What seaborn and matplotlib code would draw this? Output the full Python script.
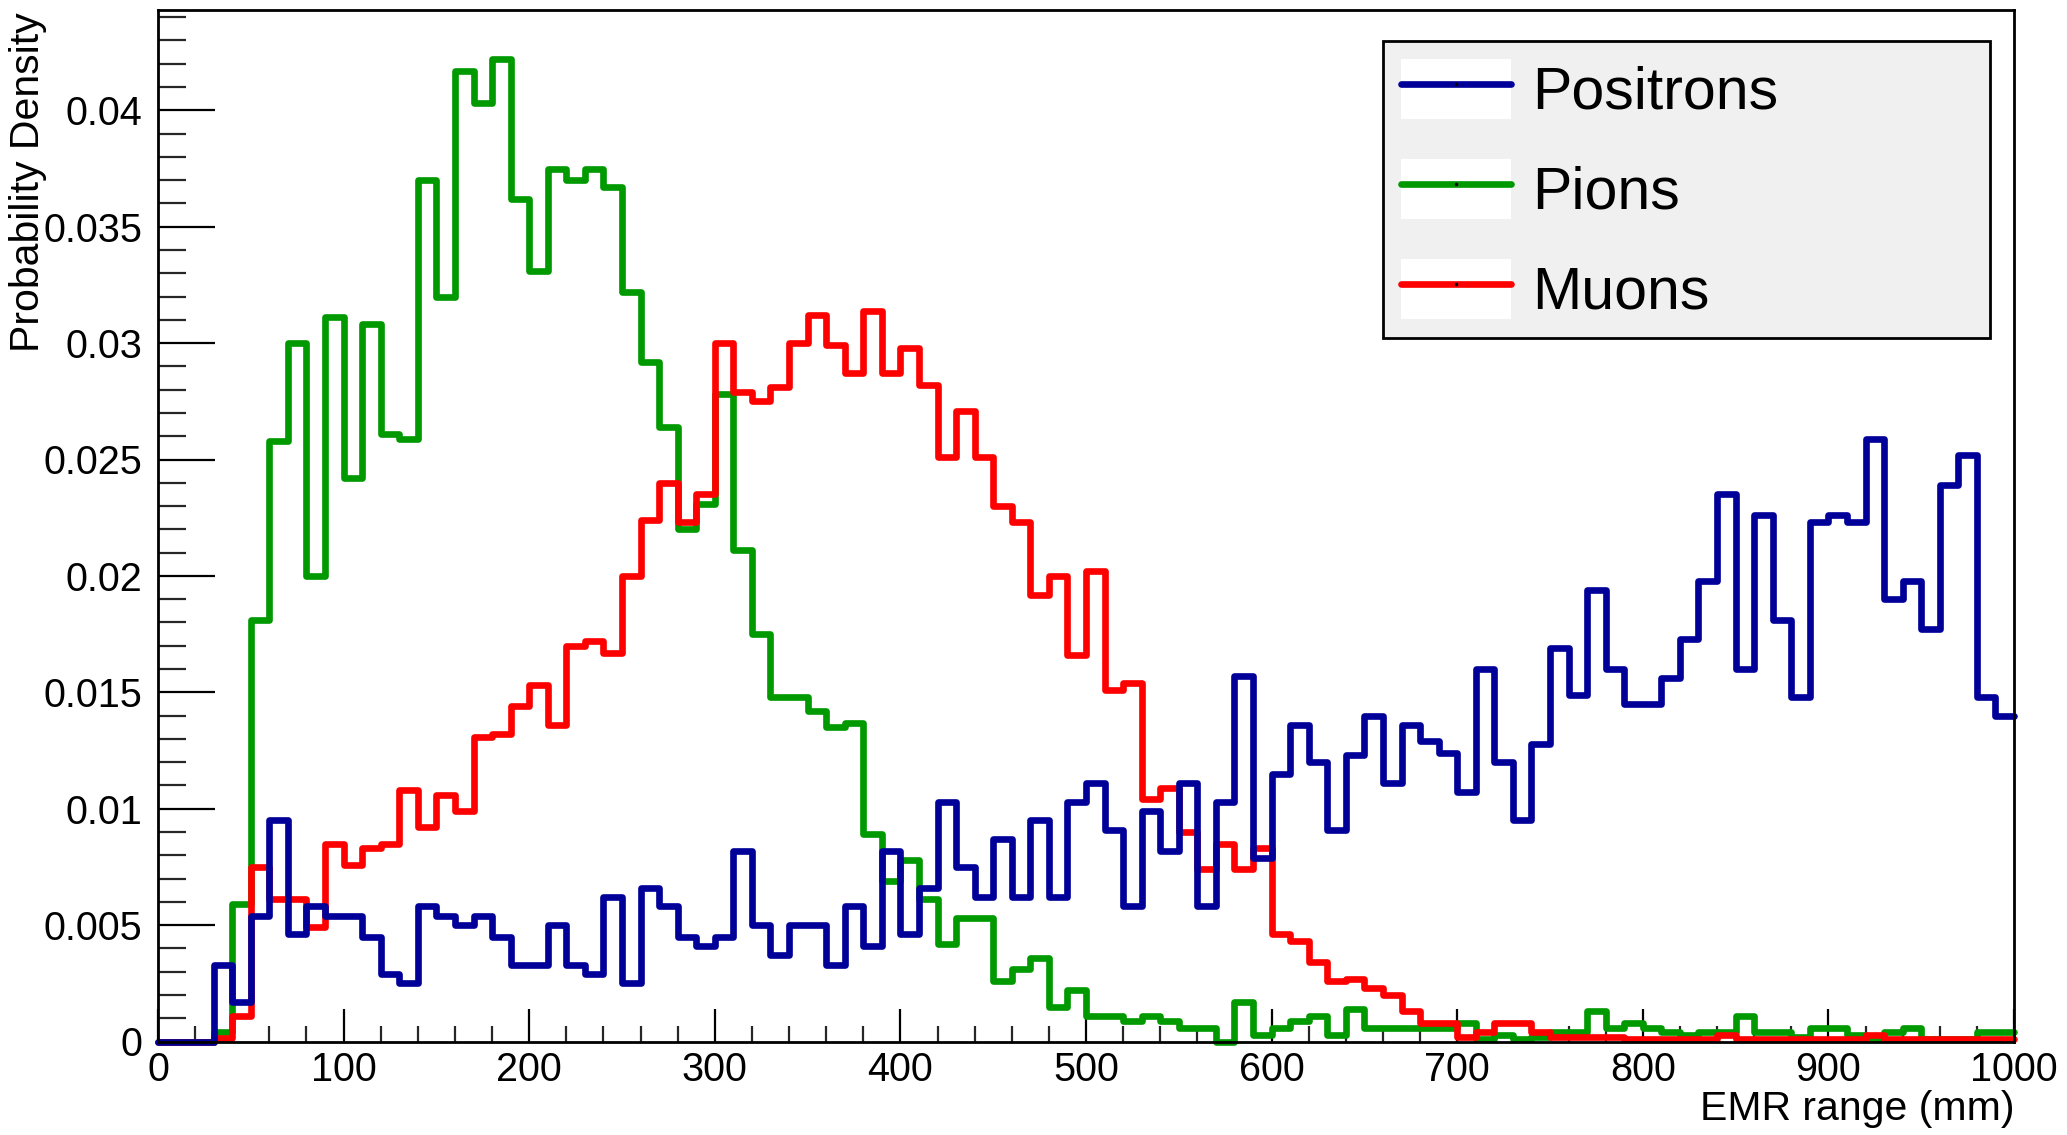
import numpy as np
import pandas as pd
import matplotlib
matplotlib.use("Agg")
import matplotlib.pyplot as plt
import seaborn as sns
from matplotlib.lines import Line2D
from matplotlib.patches import Rectangle
from matplotlib.legend_handler import HandlerTuple
from matplotlib.ticker import MultipleLocator, FixedLocator, FixedFormatter

# ---------------- data (bin contents, 10 mm bins from 0 to 1000 mm) ----------------
bin_edges = np.arange(0, 1001, 10)

positrons = [
    0, 0, 0, 0.0033, 0.0017, 0.0054, 0.0095, 0.0046, 0.0058, 0.0054,
    0.0054, 0.0045, 0.0029, 0.0025, 0.0058, 0.0054, 0.0050, 0.0054, 0.0045, 0.0033,
    0.0033, 0.0050, 0.0033, 0.0029, 0.0062, 0.0025, 0.0066, 0.0058, 0.0045, 0.0041,
    0.0045, 0.0082, 0.0050, 0.0037, 0.0050, 0.0050, 0.0033, 0.0058, 0.0041, 0.0082,
    0.0046, 0.0066, 0.0103, 0.0075, 0.0062, 0.0087, 0.0062, 0.0095, 0.0062, 0.0103,
    0.0111, 0.0091, 0.0058, 0.0099, 0.0082, 0.0111, 0.0058, 0.0103, 0.0157, 0.0079,
    0.0115, 0.0136, 0.0120, 0.0091, 0.0123, 0.0140, 0.0111, 0.0136, 0.0129, 0.0124,
    0.0107, 0.0160, 0.0120, 0.0095, 0.0128, 0.0169, 0.0149, 0.0194, 0.0160, 0.0145,
    0.0145, 0.0156, 0.0173, 0.0198, 0.0235, 0.0160, 0.0226, 0.0181, 0.0148, 0.0223,
    0.0226, 0.0223, 0.0259, 0.0190, 0.0198, 0.0177, 0.0239, 0.0252, 0.0148, 0.0140,
]

pions = [
    0, 0, 0, 0.0004, 0.0059, 0.0181, 0.0258, 0.0300, 0.0200, 0.0311,
    0.0242, 0.0308, 0.0261, 0.0259, 0.0370, 0.0320, 0.0417, 0.0403, 0.0422, 0.0362,
    0.0331, 0.0375, 0.0370, 0.0375, 0.0367, 0.0322, 0.0292, 0.0264, 0.0220, 0.0231,
    0.0278, 0.0211, 0.0175, 0.0148, 0.0148, 0.0142, 0.0135, 0.0137, 0.0089, 0.0069,
    0.0078, 0.0061, 0.0042, 0.0053, 0.0053, 0.0026, 0.0031, 0.0036, 0.0015, 0.0022,
    0.0011, 0.0011, 0.0009, 0.0011, 0.0009, 0.0006, 0.0006, 0.0000, 0.0017, 0.0003,
    0.0006, 0.0009, 0.0011, 0.0003, 0.0014, 0.0006, 0.0006, 0.0006, 0.0006, 0.0006,
    0.0008, 0.0001, 0.0003, 0.0001, 0.0002, 0.0004, 0.0004, 0.0013, 0.0006, 0.0008,
    0.0006, 0.0004, 0.0003, 0.0004, 0.0004, 0.0011, 0.0004, 0.0004, 0.0002, 0.0006,
    0.0006, 0.0003, 0.0001, 0.0004, 0.0006, 0.0001, 0.0001, 0.0001, 0.0004, 0.0004,
]

muons = [
    0, 0, 0, 0.00015, 0.0011, 0.0075, 0.0061, 0.0061, 0.0049, 0.0085,
    0.0076, 0.0083, 0.0085, 0.0108, 0.0092, 0.0106, 0.0099, 0.0131, 0.0132, 0.0144,
    0.0153, 0.0136, 0.0170, 0.0172, 0.0167, 0.0200, 0.0224, 0.0240, 0.0223, 0.0235,
    0.0300, 0.0279, 0.0275, 0.0281, 0.0300, 0.0312, 0.0299, 0.0287, 0.0314, 0.0287,
    0.0298, 0.0282, 0.0251, 0.0271, 0.0251, 0.0230, 0.0223, 0.0192, 0.0200, 0.0166,
    0.0202, 0.0151, 0.0154, 0.0104, 0.0109, 0.0090, 0.0074, 0.0085, 0.0074, 0.0083,
    0.0046, 0.0043, 0.0034, 0.0026, 0.0027, 0.0023, 0.0020, 0.0013, 0.0008, 0.0008,
    0.0002, 0.0004, 0.0008, 0.0008, 0.0004, 0.0002, 0.0002, 0.0002, 0.0002, 0.0001,
    0.0001, 0.0001, 0.0001, 0.0001, 0.0003, 0.0001, 0.0001, 0.0001, 0.0001, 0.0001,
    0.0001, 0.0001, 0.0003, 0.0001, 0.0001, 0.0001, 0.0001, 0.0001, 0.0001, 0.0001,
]

series_labels = ["Positrons", "Pions", "Muons"]
series_colors = ["#000099", "#009900", "#ff0000"]
x_ticks = [0, 100, 200, 300, 400, 500, 600, 700, 800, 900, 1000]
x_tick_labels = ["0", "100", "200", "300", "400", "500", "600", "700", "800", "900", "1000"]
y_ticks = [0, 0.005, 0.01, 0.015, 0.02, 0.025, 0.03, 0.035, 0.04]
y_tick_labels = ["0", "0.005", "0.01", "0.015", "0.02", "0.025", "0.03", "0.035", "0.04"]
x_title = "EMR range (mm)"
y_title = "Probability Density"

# ---------------- style ----------------
sns.set_style("ticks")
plt.rcParams["font.family"] = ["Liberation Sans", "DejaVu Sans"]
plt.rcParams["text.color"] = "black"
plt.rcParams["axes.labelcolor"] = "black"

W, H = 2067, 1135
fig = plt.figure(figsize=(W / 100, H / 100), dpi=100)
fig.patch.set_facecolor("white")
ax_l, ax_r, ax_t, ax_b = 158, 2014, 9.6, 1041.5
ax = fig.add_axes([ax_l / W, 1 - ax_b / H, (ax_r - ax_l) / W, (ax_b - ax_t) / H])
ax.set_facecolor("white")

centers = (bin_edges[:-1] + bin_edges[1:]) / 2
n = len(centers)
df = pd.DataFrame({
    "range": np.tile(centers, 3),
    "density": np.concatenate([positrons, pions, muons]),
    "particle": np.repeat(series_labels, n),
})
color_map = dict(zip(series_labels, series_colors))

lw = 4.8
for name in ["Pions", "Muons", "Positrons"]:
    sub = df[df["particle"] == name]
    sns.histplot(data=sub, x="range", weights="density",
                 binwidth=10, binrange=(0, 1000),
                 element="step", fill=False, color=color_map[name],
                 linewidth=lw, ax=ax, clip_on=False)

ax.set_xlim(0, 1000)
ax.set_ylim(0, (ax_b - ax_t) / 23280)

ax.xaxis.set_major_locator(FixedLocator(x_ticks))
ax.xaxis.set_major_formatter(FixedFormatter(x_tick_labels))
ax.yaxis.set_major_locator(FixedLocator(y_ticks))
ax.yaxis.set_major_formatter(FixedFormatter(y_tick_labels))
ax.xaxis.set_minor_locator(MultipleLocator(20))
ax.yaxis.set_minor_locator(MultipleLocator(0.001))

ax.tick_params(axis="x", which="major", direction="in", length=23.6, width=1.6,
               labelsize=28.5, pad=7, top=False, colors="black")
ax.tick_params(axis="x", which="minor", direction="in", length=11.6, width=1.6, top=False)
ax.tick_params(axis="y", which="major", direction="in", length=41, width=1.6,
               labelsize=28.5, pad=11, right=False, colors="black")
ax.tick_params(axis="y", which="minor", direction="in", length=20, width=1.6, right=False)

for sp in ax.spines.values():
    sp.set_visible(True)
    sp.set_linewidth(2.0)
    sp.set_color("black")
    sp.set_zorder(5)

ax.set_xlabel(x_title, fontsize=29.5, loc="right", color="black")
ax.xaxis.set_label_coords(1.0, -0.047)
ax.set_ylabel(y_title, fontsize=29.5, loc="top", color="black")
ax.yaxis.set_label_coords(-0.060, 0.997)

# ---------------- legend ----------------
handles = []
for name in series_labels:
    rect = Rectangle((0, 0), 1, 1, facecolor="white", edgecolor="none")
    line = Line2D([], [], color=color_map[name], linewidth=lw, marker=".",
                  markersize=3, markerfacecolor="black", markeredgecolor="black")
    handles.append((rect, line))

axw = ax_r - ax_l
axh = ax_b - ax_t
lx0 = (1383 - ax_l) / axw
lx1 = (1990 - ax_l) / axw
ly1 = (ax_b - 41) / axh
ly0 = (ax_b - 337) / axh
leg = ax.legend(handles, series_labels,
                handler_map={tuple: HandlerTuple(ndivide=1, pad=0)},
                loc="upper left", bbox_to_anchor=(lx0, ly0, lx1 - lx0, ly1 - ly0),
                mode="expand", fontsize=42.5, frameon=True, fancybox=False,
                framealpha=1, facecolor="#f0f0f0", edgecolor="black",
                handlelength=1.87, handleheight=1.2, handletextpad=0.36,
                labelspacing=0.64, borderpad=0.3, borderaxespad=0)
leg.get_frame().set_linewidth(2.0)
leg.set_zorder(6)
for t in leg.get_texts():
    t.set_color("black")

fig.savefig("out.png", dpi=100, facecolor="white")
